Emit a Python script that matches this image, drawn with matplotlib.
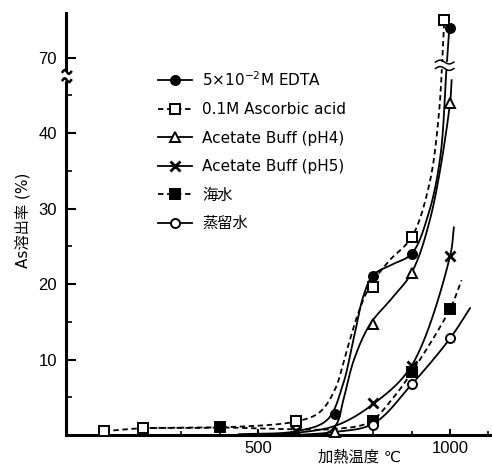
import numpy as np
import matplotlib
matplotlib.use('Agg')
import matplotlib.pyplot as plt
from matplotlib.lines import Line2D
from matplotlib.patches import Rectangle
from matplotlib.transforms import blended_transform_factory

plt.rcParams['font.family'] = ['DejaVu Sans', 'Noto Sans CJK JP']

# measured points (temperature C, As elution %)
t_edta = [700, 800, 900, 1000]
v_edta = [2.8, 21.0, 24.0, 73.9]
t_asc = [100, 200, 600, 800, 900, 985]
v_asc = [0.5, 0.9, 1.8, 19.6, 26.2, 75.0]
t_ph4 = [700, 800, 900, 1000]
v_ph4 = [0.4, 14.7, 21.5, 44.0]
t_ph5 = [600, 800, 900, 1000]
v_ph5 = [0.5, 4.3, 9.2, 23.7]
t_sea = [400, 800, 900, 1000]
v_sea = [1.0, 1.8, 8.3, 16.7]
t_dw = [800, 900, 1000]
v_dw = [1.3, 6.7, 12.8]

# hand drawn fitted curves
c_edta_x = [450, 600, 680, 720, 750, 775, 800, 850, 900, 945, 975, 990, 998]
c_edta_y = [0.1, 0.5, 2.0, 6.5, 13, 18.5, 21.2, 22.6, 24, 29.5, 37, 68, 73.9]
c_asc_x = [100, 200, 400, 600, 660, 700, 730, 760, 790, 840, 900, 945, 970, 985]
c_asc_y = [0.5, 0.9, 1.0, 1.8, 3, 6, 11, 16, 19.6, 23, 26.2, 33, 42, 75]
c_ph4_x = [560, 680, 705, 722, 750, 792, 850, 900, 950, 1000, 1004]
c_ph4_y = [0.0, 0.3, 1.5, 4.6, 10, 14.7, 18.2, 21.5, 29, 44, 47]
c_ph5_x = [550, 700, 805, 900, 1000, 1010]
c_ph5_y = [0.0, 1.2, 4.3, 9.2, 23.7, 27.5]
c_sea_x = [200, 400, 550, 700, 790, 850, 900, 1000, 1030]
c_sea_y = [0.9, 1.0, 0.8, 0.8, 1.7, 4.8, 8.3, 16.7, 20.5]
c_dw_x = [600, 700, 800, 900, 1000, 1052]
c_dw_y = [0.0, 0.4, 1.5, 6.7, 12.8, 16.8]

labels = ['5$\\times$10$^{-2}$M EDTA', '0.1M Ascorbic acid', 'Acetate Buff (pH4)',
          'Acetate Buff (pH5)', '海水', '蒸留水']


def fy(v):
    # broken axis: values above the break are shifted down by 20
    v = np.asarray(v, dtype=float)
    return np.where(v > 55, v - 20, v)


def smooth(xs, ys, n=25):
    # centripetal catmull-rom through the read points (for drawing only)
    P = np.column_stack([np.asarray(xs) / 1100.0, fy(ys) / 56.0])
    P = np.vstack([2 * P[0] - P[1], P, 2 * P[-1] - P[-2]])
    out = []
    for i in range(1, len(P) - 2):
        p0, p1, p2, p3 = P[i - 1], P[i], P[i + 1], P[i + 2]
        t0 = 0.0
        t1 = t0 + np.linalg.norm(p1 - p0) ** 0.5 + 1e-9
        t2 = t1 + np.linalg.norm(p2 - p1) ** 0.5 + 1e-9
        t3 = t2 + np.linalg.norm(p3 - p2) ** 0.5 + 1e-9
        t = np.linspace(t1, t2, n)[:, None]
        a1 = (t1 - t) / (t1 - t0) * p0 + (t - t0) / (t1 - t0) * p1
        a2 = (t2 - t) / (t2 - t1) * p1 + (t - t1) / (t2 - t1) * p2
        a3 = (t3 - t) / (t3 - t2) * p2 + (t - t2) / (t3 - t2) * p3
        b1 = (t2 - t) / (t2 - t0) * a1 + (t - t0) / (t2 - t0) * a2
        b2 = (t3 - t) / (t3 - t1) * a2 + (t - t1) / (t3 - t1) * a3
        c = (t2 - t) / (t2 - t1) * b1 + (t - t1) / (t2 - t1) * b2
        out.append(c)
    out = np.vstack(out)
    return out[:, 0] * 1100.0, out[:, 1] * 56.0


fig = plt.figure(figsize=(4.92, 4.66), dpi=100)
ax = fig.add_axes([66 / 492, 31 / 466, 424 / 492, 422 / 466])

lw = 1.3
styles = [
    dict(ls='-', marker='o', mfc='black', ms=6.5),
    dict(ls=(0, (3, 2)), marker='s', mfc='white', ms=6.5),
    dict(ls='-', marker='^', mfc='white', ms=7.5),
    dict(ls='-', marker='x', mfc='black', ms=6.5),
    dict(ls=(0, (3, 2)), marker='s', mfc='black', ms=6.5),
    dict(ls='-', marker='o', mfc='white', ms=6.5),
]
curves = [(c_edta_x, c_edta_y), (c_asc_x, c_asc_y), (c_ph4_x, c_ph4_y),
          (c_ph5_x, c_ph5_y), (c_sea_x, c_sea_y), (c_dw_x, c_dw_y)]
points = [(t_edta, v_edta), (t_asc, v_asc), (t_ph4, v_ph4),
          (t_ph5, v_ph5), (t_sea, v_sea), (t_dw, v_dw)]

handles = []
for st, (cx, cy), (px, py), lab in zip(styles, curves, points, labels):
    sx, sy = smooth(cx, cy)
    ax.plot(sx, sy, color='black', lw=lw, ls=st['ls'], zorder=2, clip_on=False)
    mew = 2.0 if st['marker'] == 'x' else 1.4
    ax.plot(px, fy(py), ls='none', marker=st['marker'], ms=st['ms'], mfc=st['mfc'],
            mec='black', mew=mew, zorder=3, clip_on=False)
    handles.append(Line2D([], [], color='black', lw=lw, ls=st['ls'], marker=st['marker'],
                          ms=st['ms'], mfc=st['mfc'], mec='black', mew=mew))

# break marks on the curves
ax.add_patch(Rectangle((955, 48.55), 60, 0.85, color='white', zorder=4, clip_on=False))
wx = np.linspace(962, 1010, 30)
for y0 in (48.55, 49.4):
    ax.plot(wx, y0 + 0.25 * np.sin((wx - 962) / 48 * 2 * np.pi), color='black', lw=1.1,
            zorder=5, clip_on=False)

ax.set_xlim(0, 1104)
ax.set_ylim(0, 55.9)
for s in ['top', 'right']:
    ax.spines[s].set_visible(False)
for s in ['left', 'bottom']:
    ax.spines[s].set_linewidth(2.2)

# break on the y axis
tr = blended_transform_factory(ax.transAxes, ax.transData)
ax.add_patch(Rectangle((-0.015, 47.0), 0.03, 1.1, transform=tr, color='white',
                       zorder=6, clip_on=False))
bx = np.linspace(-0.008, 0.012, 20)
for y0 in (47.0, 48.1):
    ax.plot(bx, y0 + 0.25 * np.sin((bx + 0.008) / 0.02 * 2 * np.pi), transform=tr,
            color='black', lw=1.8, zorder=7, clip_on=False)

ax.set_yticks([10, 20, 30, 40, 50])
ax.set_yticklabels(['10', '20', '30', '40', '70'])
ax.set_yticks([5, 15, 25, 35, 45], minor=True)
ax.set_xticks([500, 1000])
ax.set_xticklabels(['500', '1000'])
ax.set_xticks([100, 200, 300, 400, 600, 700, 800, 900, 1100], minor=True)
ax.tick_params(axis='y', which='major', direction='in', length=7, width=1.5, pad=6.5,
               labelsize=12)
ax.tick_params(axis='y', which='minor', direction='in', length=4, width=1.2)
ax.tick_params(axis='x', which='major', direction='in', length=4, width=1.5, pad=4,
               labelsize=12)
ax.tick_params(axis='x', which='minor', direction='in', length=3, width=1.2)
for lab in ax.get_xticklabels() + ax.get_yticklabels():
    lab.set_family(['Liberation Sans'])

fig.text(23 / 492, 1 - 220 / 466, 'As溶出率 (%)', rotation=90, ha='center', va='center',
         fontsize=11)
fig.text(360 / 492, 1 - 457 / 466, '加熱温度 ℃', ha='center', va='center', fontsize=11)

ax.legend(handles, labels, loc='upper left', bbox_to_anchor=(158 / 492, 1 - 70 / 466),
          bbox_transform=fig.transFigure, frameon=False, fontsize=11, handlelength=2.2,
          handletextpad=0.7, labelspacing=0.88, borderpad=0, borderaxespad=0, numpoints=1)

fig.savefig('out.png', dpi=100)
